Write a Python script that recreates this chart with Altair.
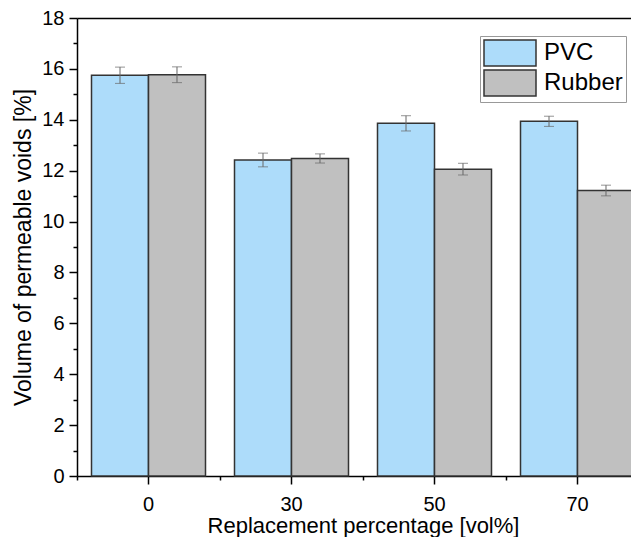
import altair as alt
import pandas as pd

categories = ["0", "30", "50", "70"]
series = ["PVC", "Rubber"]
pvc_values = [15.75, 12.42, 13.86, 13.94]
pvc_errors = [0.32, 0.27, 0.30, 0.20]
rubber_values = [15.77, 12.48, 12.06, 11.22]
rubber_errors = [0.31, 0.18, 0.23, 0.21]
y_ticks = [0, 2, 4, 6, 8, 10, 12, 14, 16, 18]
y_minor_ticks = [1, 3, 5, 7, 9, 11, 13, 15, 17]
colors = ["#ADDCFA", "#C0C0C0"]

rows = []
for name, vals, errs in [("PVC", pvc_values, pvc_errors), ("Rubber", rubber_values, rubber_errors)]:
    for c, v, e in zip(categories, vals, errs):
        rows.append({"pct": c, "material": name, "value": v, "err": e})
df = pd.DataFrame(rows)

FONT = "Liberation Sans"

x_scale = alt.Scale(domain=categories, paddingInner=0, paddingOuter=0)
off_scale = alt.Scale(domain=series, paddingInner=0, paddingOuter=0.2544)
y_scale = alt.Scale(domain=[0, 18], nice=False, zero=True)

base = alt.Chart(df).transform_calculate(
    lo="datum.value - datum.err", hi="datum.value + datum.err"
)

bars = base.mark_bar(stroke="#333333", strokeWidth=1.5).encode(
    x=alt.X("pct:N", sort=categories, scale=x_scale,
            axis=alt.Axis(orient="bottom", tickSize=8, labelPadding=10, labelAngle=0,
                          title="Replacement percentage [vol%]", titlePadding=1,
                          titleFontSize=22, grid=False)),
    xOffset=alt.XOffset("material:N", scale=off_scale),
    y=alt.Y("value:Q", scale=y_scale,
            axis=alt.Axis(orient="left", values=y_ticks, tickSize=8, labelPadding=5,
                          title="Volume of permeable voids [%]", titlePadding=6, grid=False)),
    color=alt.Color("material:N", scale=alt.Scale(domain=series, range=colors),
                    legend=alt.Legend(title=None, orient="none", legendX=403, legendY=18,
                                      symbolType="M-1,-1H3V1H-1Z", symbolSize=676,
                                      symbolStrokeColor="#333333", symbolStrokeWidth=1.5,
                                      labelFont=FONT, labelFontSize=24, labelColor="black",
                                      labelOffset=33, padding=3, strokeColor="#999999",
                                      fillColor="white", rowPadding=-8)),
)

rules = base.mark_rule(color="#666666", strokeWidth=1).encode(
    x=alt.X("pct:N", sort=categories, scale=x_scale,
            axis=alt.Axis(orient="bottom", bandPosition=0, tickSize=4, labels=False,
                          domain=False, title=None, grid=False)),
    xOffset=alt.XOffset("material:N", scale=off_scale),
    y=alt.Y("lo:Q", scale=y_scale,
            axis=alt.Axis(orient="left", values=y_minor_ticks, tickSize=4, labels=False,
                          domain=False, title=None, grid=False)),
    y2="hi:Q",
)

caps = base.transform_fold(["lo", "hi"], as_=["end", "cap"]).mark_tick(
    orient="horizontal", size=10, thickness=1, color="#666666"
).encode(
    x=alt.X("pct:N", sort=categories, scale=x_scale,
            axis=alt.Axis(orient="top", ticks=False, labels=False, domain=True,
                          title=None, grid=False)),
    xOffset=alt.XOffset("material:N", scale=off_scale),
    y=alt.Y("cap:Q", scale=y_scale, axis=None),
)

chart = alt.layer(bars, rules, caps).resolve_axis(
    x="independent", y="independent"
).properties(
    width=572, height=458,
    autosize=alt.AutoSizeParams(type="none"),
    padding={"left": 69, "top": 10, "right": -18, "bottom": 61},
    background="white",
).configure_view(stroke="transparent", strokeWidth=0).configure_axis(
    domainColor="black", domainWidth=1.5, tickColor="black", tickWidth=1.5,
    labelFont=FONT, labelFontSize=20, labelColor="black",
    titleFont=FONT, titleFontSize=23, titleFontWeight="normal", titleColor="black",
)

chart.save("out.html", embed_options={"renderer": "svg", "actions": False})
